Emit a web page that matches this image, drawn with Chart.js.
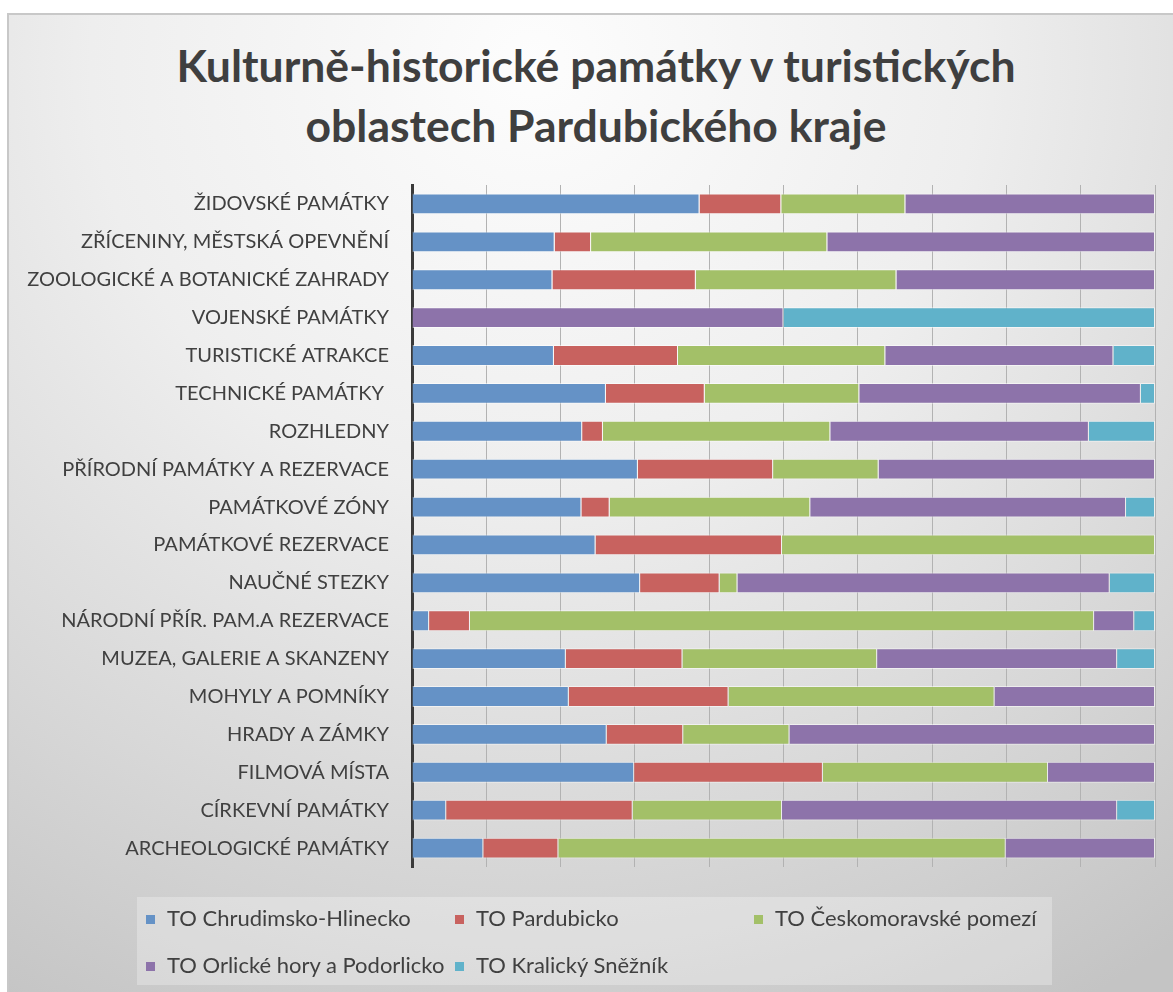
<!DOCTYPE html>
<html lang="cs">
<head>
<meta charset="utf-8">
<title>Kulturně-historické památky</title>
<script src="https://cdn.jsdelivr.net/npm/chart.js@4/dist/chart.umd.min.js"></script>
<style>
  body { margin: 0; background: #ffffff; font-family: Lato, "Open Sans", sans-serif; }
  #box {
    position: absolute; left: 7px; top: 13px; width: 1166px; height: 979px;
    border-top: 2px solid #c8c8c8; border-left: 2px solid #c8c8c8;
    background: radial-gradient(ellipse 95% 110% at 45% 5%, #fdfdfd 0%, #eeeeee 40%, #d6d6d6 75%, #c4c4c4 100%);
    overflow: hidden;
  }
  #title {
    position: absolute; left: 0; top: 20px; width: 1174px; text-align: center;
    font: bold 44.5px Lato, sans-serif; color: #3f3f3f; line-height: 60px;
  }
  #chart { position: absolute; left: 0; top: 0; }
  #legend {
    position: absolute; left: 128px; top: 882px; width: 915px; height: 88px;
    background: rgba(255, 255, 255, 0.28);
  }
  .item { position: absolute; font-size: 22px; color: #404040; white-space: nowrap; line-height: 24px; }
  .item span { display: inline-block; width: 9px; height: 9px; margin-right: 12px; vertical-align: 2px; }
</style>
</head>
<body>
<div id="box">
  <div id="title">Kulturně-historické památky v turistických<br>oblastech Pardubického kraje</div>
  <canvas id="chart" width="1166" height="979"></canvas>
  <div id="legend"></div>
</div>
<script>
var categories = [
  "ŽIDOVSKÉ PAMÁTKY",
  "ZŘÍCENINY, MĚSTSKÁ OPEVNĚNÍ",
  "ZOOLOGICKÉ A BOTANICKÉ ZAHRADY",
  "VOJENSKÉ PAMÁTKY",
  "TURISTICKÉ ATRAKCE",
  "TECHNICKÉ PAMÁTKY ",
  "ROZHLEDNY",
  "PŘÍRODNÍ PAMÁTKY A REZERVACE",
  "PAMÁTKOVÉ ZÓNY",
  "PAMÁTKOVÉ REZERVACE",
  "NAUČNÉ STEZKY",
  "NÁRODNÍ PŘÍR. PAM.A REZERVACE",
  "MUZEA, GALERIE A SKANZENY",
  "MOHYLY A POMNÍKY",
  "HRADY A ZÁMKY",
  "FILMOVÁ MÍSTA",
  "CÍRKEVNÍ PAMÁTKY",
  "ARCHEOLOGICKÉ PAMÁTKY"
];

// podíl (%) každé turistické oblasti v dané kategorii
var chrudimsko = [38.7, 19.2, 18.9, 0, 19.1, 26.1, 22.9, 30.4, 22.8, 24.7, 30.7, 2.3, 20.7, 21.1, 26.2, 29.9, 4.6, 9.6];
var pardubicko = [11.0, 4.9, 19.3, 0, 16.7, 13.3, 2.8, 18.2, 3.8, 25.1, 10.7, 5.5, 15.7, 21.5, 10.3, 25.4, 25.1, 10.1];
var ceskomoravske = [16.7, 31.8, 27.0, 0, 27.9, 20.8, 30.6, 14.2, 27.0, 50.2, 2.4, 84.0, 26.2, 35.8, 14.3, 30.3, 20.1, 60.2];
var orlicke = [33.6, 44.1, 34.8, 50.0, 30.7, 37.9, 34.8, 37.2, 42.5, 0, 50.1, 5.4, 32.3, 21.6, 49.2, 14.4, 45.1, 20.1];
var kralicky = [0, 0, 0, 50.0, 5.6, 1.9, 8.9, 0, 3.9, 0, 6.1, 2.8, 5.1, 0, 0, 0, 5.1, 0];

var seriesNames = ["TO Chrudimsko-Hlinecko", "TO Pardubicko", "TO Českomoravské pomezí", "TO Orlické hory a Podorlicko", "TO Kralický Sněžník"];
var seriesColors = ["#6592c6", "#c8625f", "#a3c068", "#8d73aa", "#60b2ca"];
var seriesData = [chrudimsko, pardubicko, ceskomoravske, orlicke, kralicky];

var xTicks = [0, 10, 20, 30, 40, 50, 60, 70, 80, 90, 100];

var datasets = [];
for (var i = 0; i < seriesNames.length; i++) {
  datasets.push({
    label: seriesNames[i],
    data: seriesData[i],
    backgroundColor: seriesColors[i],
    borderColor: "rgba(255, 255, 255, 0.55)",
    borderWidth: 1,
    barPercentage: 0.55,
    categoryPercentage: 1
  });
}

var ctx = document.getElementById("chart").getContext("2d");
new Chart(ctx, {
  type: "bar",
  data: { labels: categories, datasets: datasets },
  options: {
    indexAxis: "y",
    responsive: false,
    animation: false,
    layout: { padding: { left: 0, right: 20, top: 170, bottom: 127 } },
    plugins: {
      legend: { display: false },
      tooltip: { enabled: false }
    },
    scales: {
      x: {
        stacked: true,
        min: 0,
        max: 100,
        afterBuildTicks: function(scale) {
          scale.ticks = xTicks.map(function(v) { return { value: v }; });
        },
        afterFit: function(scale) { scale.height = 0; },
        ticks: { display: false },
        grid: { color: "#b2b2b2", lineWidth: 1, drawTicks: false },
        border: { display: false }
      },
      y: {
        stacked: true,
        afterFit: function(scale) { scale.width = 403; },
        ticks: {
          color: "#404040",
          font: { family: "Lato", size: 20 },
          padding: 23
        },
        grid: { display: false, drawTicks: false },
        border: { color: "#3a3a3a", width: 3 }
      }
    }
  }
});

// legenda ve dvou řádcích, položky v pevných sloupcích
var legendPos = [[9, 21], [318, 21], [617, 21], [9, 68], [318, 68]];
var legend = document.getElementById("legend");
for (var j = 0; j < seriesNames.length; j++) {
  var item = document.createElement("div");
  item.className = "item";
  item.style.left = legendPos[j][0] + "px";
  item.style.top = (legendPos[j][1] - 12) + "px";
  item.innerHTML = '<span style="background:' + seriesColors[j] + '"></span>' + seriesNames[j];
  legend.appendChild(item);
}
</script>
</body>
</html>
